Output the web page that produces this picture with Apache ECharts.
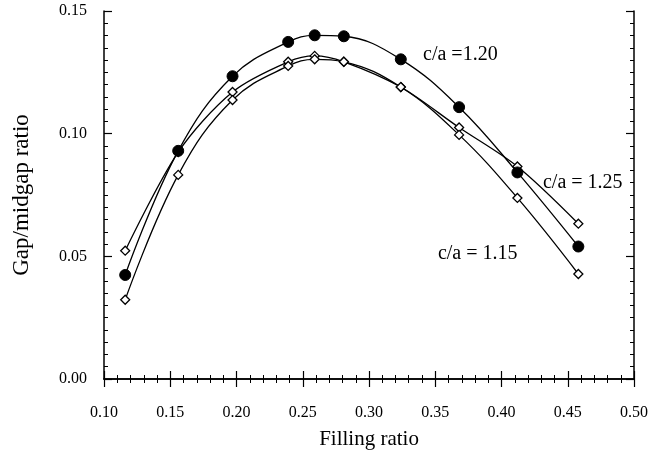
<!DOCTYPE html>
<html><head><meta charset="utf-8">
<script src="https://cdn.jsdelivr.net/npm/echarts@6/dist/echarts.min.js"></script>
<style>html,body{margin:0;padding:0;background:#fff}#c{width:648px;height:457px}</style>
</head><body><div id="c"></div>
<script>
const fillingRatio = [0.116, 0.156, 0.197, 0.239, 0.259, 0.281, 0.324, 0.368, 0.412, 0.458];
const ca120 = [0.0424, 0.0930, 0.1234, 0.1374, 0.1401, 0.1397, 0.1303, 0.1108, 0.0842, 0.0540];
const ca125 = [0.0523, 0.0925, 0.1170, 0.1293, 0.1317, 0.1293, 0.1190, 0.1025, 0.0866, 0.0633];
const ca115 = [0.0323, 0.0832, 0.1137, 0.1276, 0.1303, 0.1293, 0.1190, 0.0995, 0.0738, 0.0428];
const xTicks = [0.10, 0.15, 0.20, 0.25, 0.30, 0.35, 0.40, 0.45, 0.50];
const yTicks = [0.00, 0.05, 0.10, 0.15];
const labels = [
  {text: 'c/a =1.20', x: 0.3408, y: 0.1321},
  {text: 'c/a = 1.25', x: 0.4313, y: 0.0800},
  {text: 'c/a = 1.15', x: 0.3520, y: 0.0510}
];

const pairs = a => fillingRatio.map((x, i) => [x, a[i]]);
const font = '"Liberation Serif", "DejaVu Serif", serif';
const axisBase = {
  type: 'value', splitLine: {show: false},
  axisLine: {show: true, lineStyle: {color: '#000', width: 1.5}},
  axisTick: {show: true, inside: true, length: 8, lineStyle: {color: '#000', width: 1.2}},
  minorTick: {show: true, length: 4, lineStyle: {color: '#000', width: 1}}
};
const chart = echarts.init(document.getElementById('c'));
const lineS = {color: '#000', width: 1.3};
chart.setOption({
  animation: false,
  backgroundColor: '#fff',
  grid: {left: 104, right: 14, top: 11, bottom: 78, containLabel: false, outerBoundsMode: 'none'},
  xAxis: [
    Object.assign({}, axisBase, {min: xTicks[0], max: xTicks[xTicks.length-1], interval: 0.05, position: 'bottom',
      minorTick: Object.assign({}, axisBase.minorTick, {splitNumber: 5}),
      name: 'Filling ratio', nameLocation: 'middle', nameGap: 50,
      nameTextStyle: {fontFamily: font, fontSize: 21, color: '#000'},
      axisLabel: {fontFamily: font, fontSize: 16, color: '#000', margin: 26, formatter: v => v.toFixed(2)}}),
    Object.assign({}, axisBase, {min: xTicks[0], max: xTicks[xTicks.length-1], interval: 0.05, position: 'top',
      minorTick: Object.assign({}, axisBase.minorTick, {splitNumber: 5}),
      axisLabel: {show: false}})
  ],
  yAxis: [
    Object.assign({}, axisBase, {min: yTicks[0], max: yTicks[yTicks.length-1], interval: 0.05, position: 'left',
      minorTick: Object.assign({}, axisBase.minorTick, {splitNumber: 10}),
      name: 'Gap/midgap ratio', nameLocation: 'middle', nameGap: 71,
      nameTextStyle: {fontFamily: font, fontSize: 23, color: '#000'},
      axisLabel: {fontFamily: font, fontSize: 16, color: '#000', margin: 17, formatter: v => v.toFixed(2)}}),
    Object.assign({}, axisBase, {min: yTicks[0], max: yTicks[yTicks.length-1], interval: 0.05, position: 'right',
      minorTick: Object.assign({}, axisBase.minorTick, {splitNumber: 10}),
      axisLabel: {show: false}})
  ],
  series: [
    {type: 'line', name: 'c/a=1.25', data: pairs(ca125), smooth: 0.3, symbol: 'diamond', symbolSize: 9,
      lineStyle: lineS, itemStyle: {color: '#fff', borderColor: '#000', borderWidth: 1.3}, z: 2},
    {type: 'line', name: 'c/a=1.15', data: pairs(ca115), smooth: 0.4, symbol: 'diamond', symbolSize: 9,
      lineStyle: lineS, itemStyle: {color: '#fff', borderColor: '#000', borderWidth: 1.3}, z: 2},
    {type: 'line', name: 'c/a=1.20', data: pairs(ca120), smooth: 0.4, symbol: 'circle', symbolSize: 11,
      lineStyle: lineS, itemStyle: {color: '#000', borderColor: '#000'}, z: 3}
  ]
});
const g = labels.map(l => {
  const p = chart.convertToPixel({xAxisIndex: 0, yAxisIndex: 0}, [l.x, l.y]);
  return {type: 'text', x: p[0], y: p[1], style: {text: l.text, fontFamily: font, fontSize: 20, fill: '#000', align: 'left', verticalAlign: 'middle'}};
});
chart.setOption({graphic: g});
</script></body></html>
